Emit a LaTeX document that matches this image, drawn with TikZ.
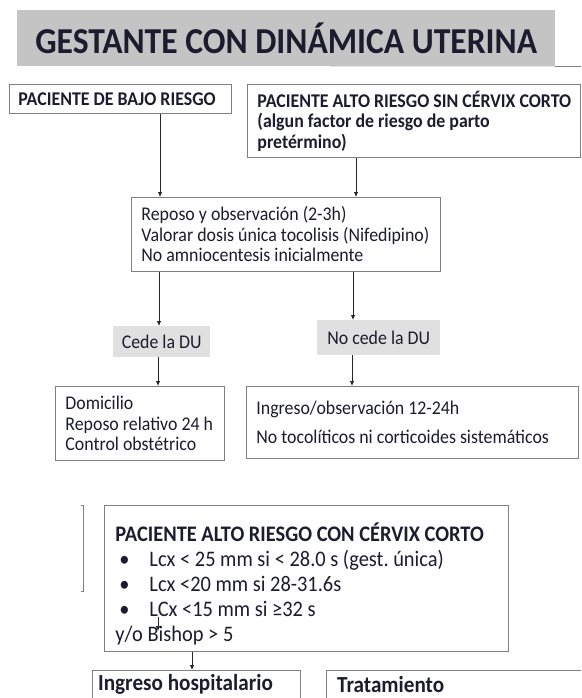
\documentclass[tikz,border=0pt]{standalone}
\usepackage{fontspec}
\setmainfont{Carlito}[FakeStretch=0.92]
\usetikzlibrary{arrows.meta}
\definecolor{txt}{RGB}{28,28,46}
\definecolor{bord}{RGB}{128,128,128}
\definecolor{titfill}{RGB}{196,196,196}
\definecolor{cedefill}{RGB}{224,224,224}
\frenchspacing
\newcommand\natsp{\spaceskip=0pt\xspaceskip=0pt\relax}
\begin{document}
\begin{tikzpicture}[x=1pt,y=-1pt,
  every node/.style={text=txt},
  box/.style={draw=bord, line width=0.9pt, anchor=north west, inner ysep=0pt, align=left,
    font=\fontsize{19.4}{20.5}\selectfont},
  bigbox/.style={box, font=\fontsize{22.2}{25}\selectfont},
  openbox/.style={anchor=north west, inner ysep=0pt, align=left,
    font=\fontsize{23}{25}\selectfont\bfseries},
  tag/.style={fill=cedefill, anchor=north west, inner sep=0pt, font=\fontsize{19.4}{20.5}\selectfont},
  frame/.style={draw=bord, line width=0.9pt},
  arr/.style={-{Latex[length=5pt,width=4.5pt]}, line width=0.8pt, draw=black!85}
]
\useasboundingbox (0,0) rectangle (581,698);
\clip (0,0) rectangle (581,698);
\fill[white] (0,0) rectangle (581,698);

% title
\node[fill=titfill, anchor=north west, minimum width=538pt, minimum height=56pt, inner sep=0pt,
  font=\fontsize{36.5}{40}\selectfont\bfseries] (title) at (17,10) {GESTANTE CON DINÁMICA UTERINA};
\coordinate (edge) at (581,0);
\coordinate (faint) at (330,0);
\draw[gray!22, line width=0.8pt] (title.south -| faint) -- (title.south east);
\draw[bord, line width=0.9pt] (title.south east) -- (title.south -| edge);

% top boxes
\node[box, inner xsep=9pt, text width=204pt, minimum height=29pt] (bajo) at (9,84)
  {\natsp\bfseries\mbox{PACIENTE DE BAJO RIESGO}};
\node[box, inner xsep=10pt, text width=313pt, minimum height=73pt] (alto) at (247,84)
  {\natsp\bfseries\mbox{PACIENTE ALTO RIESGO SIN CÉRVIX CORTO}\\
   \mbox{(algun factor de riesgo de parto}\\
   \mbox{pretérmino)}};

\node[box, inner xsep=10pt, text width=289pt, minimum height=74pt] (reposo) at (131,197)
  {\natsp\mbox{Reposo y observación (2-3h)}\\
   \mbox{Valorar dosis única tocolisis (Nifedipino)}\\
   \mbox{No amniocentesis inicialmente}};

\node[tag, minimum width=97pt, minimum height=31pt] (cede) at (113,326) {Cede la DU};
\node[tag, minimum width=123pt, minimum height=35pt] (nocede) at (317,320) {No cede la DU};

\node[box, inner xsep=10pt, text width=149pt, minimum height=74pt] (domi) at (55,386)
  {\natsp\mbox{Domicilio}\\ \mbox{Reposo relativo 24 h}\\ \mbox{Control obstétrico}};
\node[box, inner xsep=10pt, text width=312pt, minimum height=72pt] (ingreso) at (246,386)
  {\natsp\mbox{Ingreso/observación 12-24h}\\[8.5pt]
   \mbox{No tocolíticos ni corticoides sistemáticos}};

% bracket
\draw[bord, line width=0.8pt] (81,505) -- (83,505) -- (83,591) -- (81,591);

% cervix box
\node[bigbox, inner xsep=11pt, text width=382pt, minimum height=146pt] (cervix) at (104,505)
  {\natsp\mbox{\bfseries PACIENTE ALTO RIESGO CON CÉRVIX CORTO}\\
   \mbox{\hspace*{4pt}\makebox[30pt][l]{\textbullet}Lcx < 25 mm si < 28.0 s (gest. única)}\\
   \mbox{\hspace*{4pt}\makebox[30pt][l]{\textbullet}Lcx <20 mm si 28-31.6s}\\
   \mbox{\hspace*{4pt}\makebox[30pt][l]{\textbullet}LCx <15 mm si ≥32 s}\\
   \mbox{y/o Bishop > 5}\par\vspace{-12pt}};

% bottom boxes, cut off by the page edges
\node[openbox, inner xsep=6pt, text width=196pt, minimum height=28pt] (hosp) at (92,670)
  {\natsp\mbox{Ingreso hospitalario}};
\draw[frame] (hosp.south west) -- (hosp.north west) -- (hosp.north east) -- (hosp.south east);
\node[openbox, inner xsep=11pt, text width=233pt, minimum height=28pt] (trat) at (326,670)
  {\natsp\mbox{Tratamiento}};
\draw[frame] (trat.south west) -- (trat.north west) -- (trat.north east);

% connectors
\coordinate (xa) at (160,0);
\coordinate (xb) at (356,0);
\coordinate (xc) at (159,0);
\coordinate (xd) at (353,0);
\coordinate (xe) at (158,0);
\coordinate (xf) at (352,0);
\coordinate (xg) at (192,0);
\draw[arr] (bajo.south -| xa) -- (reposo.north -| xa);
\draw[arr] (alto.south -| xb) -- (reposo.north -| xb);
\draw[arr] (reposo.south -| xc) -- (cede.north -| xc);
\draw[arr] (reposo.south -| xd) -- (nocede.north -| xd);
\draw[arr] (cede.south -| xe) -- (domi.north -| xe);
\draw[arr] (nocede.south -| xf) -- (ingreso.north -| xf);
\coordinate (ia) at (158,617);
\coordinate (ib) at (158,631);
\draw[arr] (ia) -- (ib);
\draw[arr] (cervix.south -| xg) -- (hosp.north -| xg);
\end{tikzpicture}
\end{document}
